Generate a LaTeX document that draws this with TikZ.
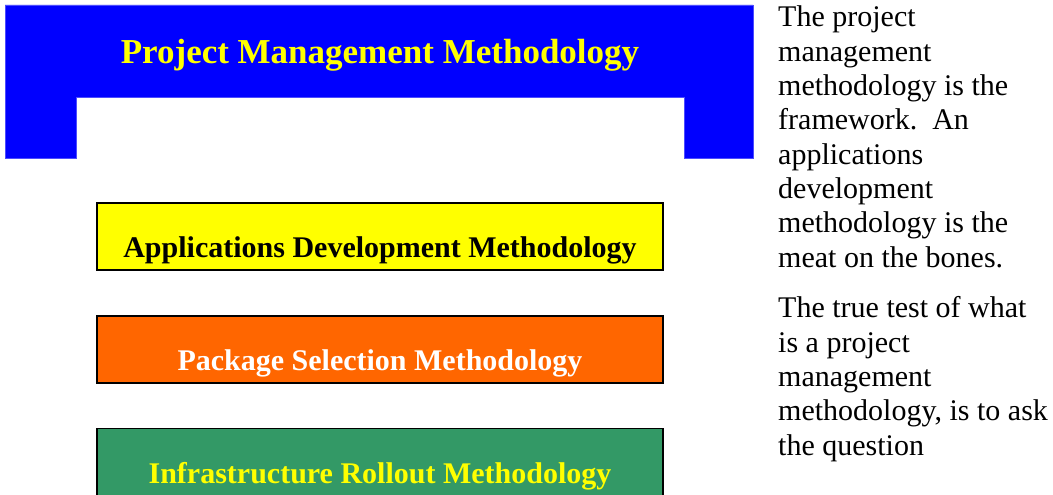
\documentclass[tikz,border=0pt]{standalone}
\usepackage{fontspec}
\setmainfont{Liberation Serif}
\usepackage{tikz}
\usetikzlibrary{positioning}
\definecolor{pmblue}{HTML}{0000FF}
\definecolor{pmyellow}{HTML}{FFFF00}
\definecolor{pmorange}{HTML}{FF6600}
\definecolor{pmgreen}{HTML}{339966}

\begin{document}
\begin{tikzpicture}[x=1pt,y=-1pt,
  methbox/.style={draw=black, line width=1.3pt, minimum width=566pt, minimum height=67pt, inner sep=0pt},
  methlabel/.style={anchor=base, font=\fontsize{30}{34}\selectfont\bfseries, inner sep=0pt},
  note/.style={anchor=base west, align=left, inner sep=0pt, font=\fontsize{30}{34.3}\selectfont}]
\useasboundingbox (0,0) rectangle (1053,495);

% the framework
\fill[pmblue, draw=pmblue!70] (5,5) -- (753,5) -- (753,158) -- (684,158) -- (684,97)
  -- (76,97) -- (76,158) -- (5,158) -- cycle;
\node[anchor=base, text=pmyellow, font=\fontsize{35}{40}\selectfont\bfseries, inner sep=0pt] (pmm) at (380,64) {Project Management Methodology};

% the methodologies
\node[methbox, fill=pmyellow] (adm) at (380,236.5) {};
\node[methlabel, text=black] (admtext) at (380,257) {Applications Development Methodology};
\node[methbox, fill=pmorange] (psm) at (380,349.5) {};
\node[methlabel, text=white] (psmtext) at (380,370) {Package Selection Methodology};
\node[methbox, fill=pmgreen] (irm) at (380,462) {};
\node[methlabel, text=pmyellow] (irmtext) at (380,483) {Infrastructure Rollout Methodology};

% notes (anchored at the baseline of the last line)
\node[note] (note1) at (778,267)
  {The project\\ management\\ methodology is the\\ framework.\ \ An\\ applications\\ development\\ methodology is the\\ meat on the bones.};
\node[note] (note2) at (778,455)
  {The true test of what\\ is a project\\ management\\ methodology, is to ask\\ the question};
\end{tikzpicture}
\end{document}
